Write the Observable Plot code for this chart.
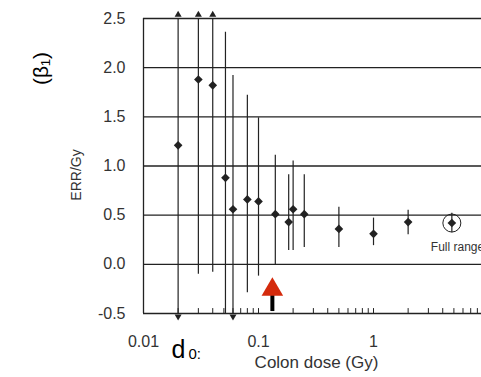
<!DOCTYPE html>
<html>
<head>
<meta charset="utf-8">
<script src="https://cdn.jsdelivr.net/npm/d3@7"></script>
<script src="https://cdn.jsdelivr.net/npm/@observablehq/plot@0.6"></script>
<style>
  html, body { margin: 0; padding: 0; background: #fff; }
  #chart { width: 481px; height: 377px; overflow: hidden; }
</style>
</head>
<body>
<div id="chart"></div>
<script>
// ---- data ----
const doses    = [0.02, 0.03, 0.04, 0.0516, 0.06, 0.08, 0.1, 0.14, 0.183, 0.2, 0.25, 0.5, 1, 2, 4.8];
const errPerGy = [1.21, 1.88, 1.82, 0.88, 0.56, 0.66, 0.64, 0.51, 0.43, 0.56, 0.51, 0.36, 0.31, 0.43, 0.42];
// null = confidence limit beyond the plotted range (drawn with an arrow)
const lowerCI  = [null, -0.10, -0.08, -0.5, null, -0.29, -0.12, -0.01, 0.14, 0.14, 0.17, 0.17, 0.19, 0.30, 0.32];
const upperCI  = [null, null, null, 2.36, 1.92, 1.72, 1.49, 1.11, 0.91, 1.05, 0.91, 0.58, 0.47, 0.55, 0.52];
const fullRangeIndex = 14;
const yTicks = [-0.5, 0, 0.5, 1, 1.5, 2, 2.5];
const xTickLabels = [0.01, 0.1, 1];
const minorTicks = [2,3,4,5,6,7,8,9,10,20,30,40,50,60,70,80,90,100,200,300,400,500,600,700,800].map(v => v / 100);
const d0Dose = 0.132;

const yMin = -0.5, yMax = 2.5;
const rows = doses.map((d, i) => ({
  dose: d, err: errPerGy[i],
  lo: lowerCI[i] == null ? yMin : lowerCI[i],
  hi: upperCI[i] == null ? yMax : upperCI[i],
  arrowLo: lowerCI[i] == null, arrowHi: upperCI[i] == null
}));

const ink = "#222";
const chart = Plot.plot({
  width: 481, height: 377,
  marginLeft: 143, marginTop: 18, marginBottom: 64, marginRight: 0,
  style: { fontFamily: "Liberation Sans, Arial, sans-serif", background: "#fff", overflow: "visible" },
  x: { type: "log", domain: [0.01, 8.69] },
  y: { domain: [yMin, yMax] },
  marks: [
    // horizontal lines at y ticks
    Plot.ruleY(yTicks, { stroke: ink, strokeWidth: 1.3 }),
    // left frame
    Plot.ruleX([0.01], { y1: yMin, y2: yMax, stroke: ink, strokeWidth: 1.3 }),
    // inward minor ticks
    Plot.ruleX(minorTicks, { y1: yMin, y2: yMin + 0.05, stroke: ink, strokeWidth: 1 }),
    // axes (labels only)
    Plot.axisY(yTicks, { tickSize: 0, tickPadding: 18, tickFormat: d => d.toFixed(1), fontSize: 16, fill: "#333", label: null }),
    Plot.axisX(xTickLabels, { tickSize: 0, tickPadding: 22, tickFormat: d => String(d), fontSize: 16, fill: "#333", label: null }),
    // error bars
    Plot.ruleX(rows, { x: "dose", y1: "lo", y2: "hi", stroke: ink, strokeWidth: 1.2 }),
    // arrowheads
    Plot.dot(rows.filter(r => r.arrowHi), { x: "dose", y: () => yMax, symbol: "triangle", r: 2.6, fill: ink, dy: -3.7 }),
    Plot.dot(rows.filter(r => r.arrowLo), { x: "dose", y: () => yMin, symbol: "triangle", r: 2.6, fill: ink, rotate: 180, dy: 3 }),
    // points
    Plot.dot(rows, { x: "dose", y: "err", symbol: "diamond2", r: 3.9, fill: ink }),
    // full range marker
    Plot.dot([rows[fullRangeIndex]], { x: "dose", y: "err", r: 9, stroke: ink, fill: "none", strokeWidth: 1 }),
    Plot.text([rows[fullRangeIndex]], { x: "dose", y: "err", text: () => "Full range", textAnchor: "start", dx: -21, dy: 24, fontSize: 12, fill: "#333" }),
    // d0 arrow
    Plot.ruleX([d0Dose], { y1: -0.48, y2: -0.31, stroke: "#000", strokeWidth: 4 }),
    Plot.dot([d0Dose], { x: d => d, y: () => -0.257, symbol: "triangle", r: 8, fill: "#d42a0c" }),
    // axis titles
    Plot.text(["ERR/Gy"], { frameAnchor: "left", dx: -67, dy: 9, rotate: -90, fontSize: 14, fill: "#333", textAnchor: "middle" }),
    Plot.text(["Colon dose (Gy)"], { frameAnchor: "bottom-left", dx: 173, dy: 54, fontSize: 17, fill: "#333", textAnchor: "middle" }),
    // annotations
    Plot.text(["(β₁)"], { frameAnchor: "top-left", dx: -110, dy: 50, rotate: -90, fontSize: 21, fill: "#000", textAnchor: "middle" }),
    Plot.text(["d"], { frameAnchor: "bottom-left", dx: 28, dy: 44, fontSize: 25, fill: "#000", textAnchor: "start" }),
    Plot.text(["0:"], { frameAnchor: "bottom-left", dx: 45, dy: 45, fontSize: 15, fill: "#000", textAnchor: "start" })
  ]
});
document.getElementById("chart").appendChild(chart);
</script>
</body>
</html>
